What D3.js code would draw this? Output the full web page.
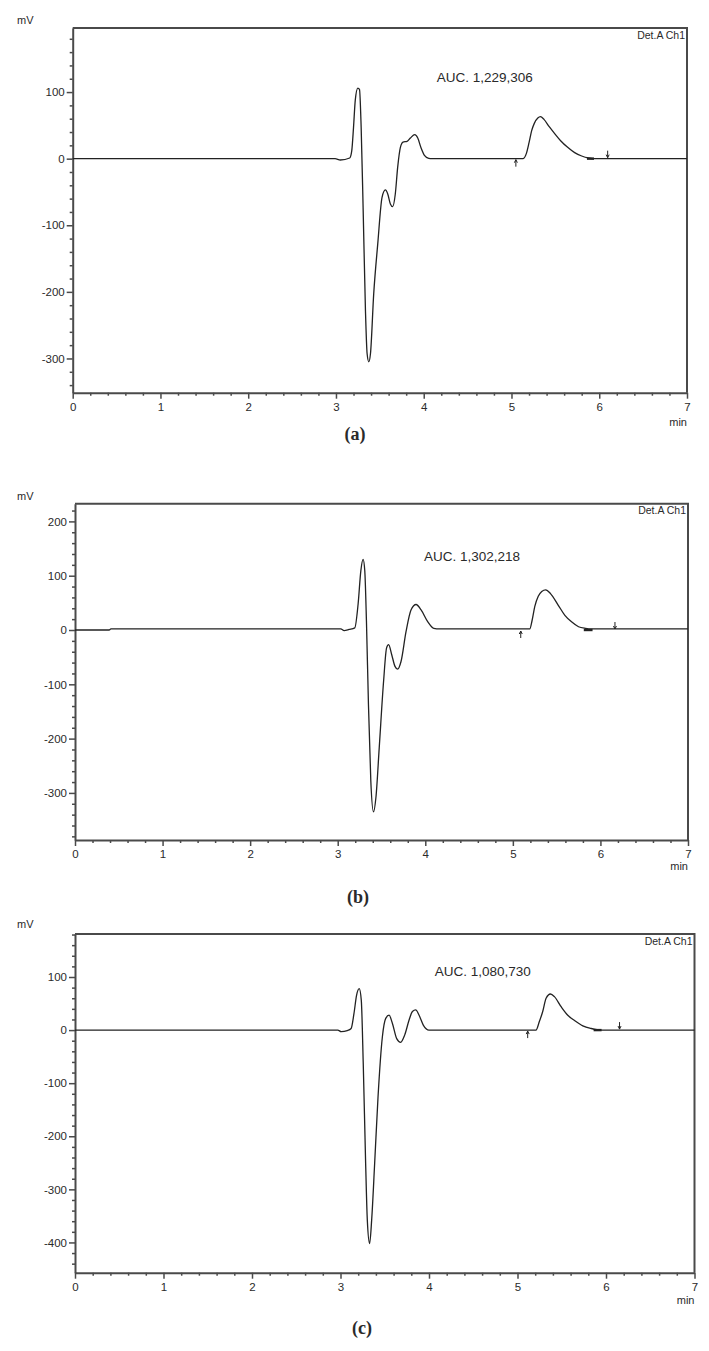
<!DOCTYPE html>
<html>
<head>
<meta charset="utf-8">
<script src="https://cdn.jsdelivr.net/npm/d3@7"></script>
<style>
  body { margin: 0; background: #fff; }
  text { font-family: "Liberation Sans", Arial, sans-serif; fill: #2a2a2a; }
</style>
</head>
<body>
<svg id="chart" width="709" height="1351"></svg>
<script>
// ---------- data ----------
const xTicks = [0, 1, 2, 3, 4, 5, 6, 7];

// (a)
const timeA = [0, 2.99, 3.05, 3.157, 3.18, 3.2, 3.22, 3.249, 3.268, 3.287, 3.31, 3.336, 3.355, 3.374, 3.393, 3.43, 3.476, 3.525, 3.563, 3.59, 3.62, 3.646, 3.676, 3.703, 3.734, 3.764, 3.81, 3.848, 3.898, 3.932, 3.97, 4.008, 4.057, 4.095,
  5.13, 5.17, 5.20, 5.23, 5.26, 5.30, 5.33, 5.37, 5.43, 5.49, 5.56, 5.64, 5.72, 5.80, 5.88, 5.95, 7];
const mvA = [0, 0, -2, 1, 12, 47, 88, 106, 104, 47, -78, -228, -293, -305, -293, -203, -128, -58, -47, -53, -68, -72, -53, -13, 17, 25, 26, 31, 36, 31, 16, 5, 0.5, 0,
  0, 8, 24, 42, 53, 61, 63, 59, 48, 38, 27, 17, 9, 4, 1, 0, 0];
const yTicksA = [-300, -200, -100, 0, 100];
const arrowsA = { up: 5.05, down: 6.096 };
const tailA = [5.86, 5.94];
const aucA = "AUC. 1,229,306";

// (b)
const timeB = [0, 0.39, 0.41, 3.035, 3.073, 3.13, 3.195, 3.233, 3.264, 3.29, 3.309, 3.328, 3.351, 3.378, 3.409, 3.436, 3.474, 3.524, 3.558, 3.581, 3.616, 3.654, 3.684, 3.723, 3.78, 3.837, 3.895, 3.952, 4.029, 4.097, 4.162,
  5.193, 5.22, 5.25, 5.29, 5.33, 5.375, 5.43, 5.517, 5.594, 5.67, 5.75, 5.83, 5.9, 7];
const mvB = [0, 0, 2, 2, -1, 1, 4, 48, 109, 130, 109, 17, -137, -278, -335, -309, -217, -94, -33, -27, -45, -67, -72, -58, -3, 37, 47, 37, 15, 3, 2,
  2, 18, 43, 62, 71, 74, 67, 46, 27, 15, 6, 3, 2, 2];
const yTicksB = [-300, -200, -100, 0, 100, 200];
const arrowsB = { up: 5.09, down: 6.166 };
const tailB = [5.81, 5.91];
const aucB = "AUC. 1,302,218";

// (c)
const timeC = [0, 2.97, 3.008, 3.076, 3.12, 3.152, 3.182, 3.212, 3.235, 3.257, 3.284, 3.303, 3.329, 3.352, 3.386, 3.424, 3.473, 3.511, 3.549, 3.586, 3.635, 3.68, 3.726, 3.775, 3.813, 3.85, 3.888, 3.937, 4.0,
  5.209, 5.247, 5.285, 5.323, 5.372, 5.417, 5.493, 5.568, 5.644, 5.738, 5.833, 5.946, 7];
const mvC = [0, 0, -3, -1, 3, 31, 66, 78, 56, -63, -251, -358, -402, -358, -251, -126, -13, 22, 28, 13, -16, -23, -9, 19, 35, 38, 28, 9, 0,
  0, 16, 35, 60, 68, 63, 44, 28, 18, 8, 3, 0, 0];
const yTicksC = [-400, -300, -200, -100, 0, 100];
const arrowsC = { up: 5.115, down: 6.153 };
const tailC = [5.86, 5.95];
const aucC = "AUC. 1,080,730";

// ---------- layout of each panel ----------
const panels = [
  { time: timeA, mv: mvA, yTicks: yTicksA, arrows: arrowsA, tail: tailA, auc: aucA, caption: "(a)",
    left: 72.7, right: 687, top: 28, bottom: 392.7, yDomain: [-351.4, 196.2],
    aucX: 532.7, aucY: 81.5, detY: 39, mvY: 23.5, minY: 426, capX: 355, capY: 440 },
  { time: timeB, mv: mvB, yTicks: yTicksB, arrows: arrowsB, tail: tailB, auc: aucB, caption: "(b)",
    left: 75, right: 688, top: 503.7, bottom: 840, yDomain: [-386.7, 232.6],
    aucX: 520, aucY: 560.5, detY: 514, mvY: 500, minY: 870, capX: 358, capY: 903 },
  { time: timeC, mv: mvC, yTicks: yTicksC, arrows: arrowsC, tail: tailC, auc: aucC, caption: "(c)",
    left: 75, right: 694.5, top: 934, bottom: 1272.7, yDomain: [-457, 181],
    aucX: 530.7, aucY: 975.5, detY: 945, mvY: 928, minY: 1304, capX: 362, capY: 1334 }
];

const svg = d3.select("#chart");
const axisColor = "#4a4a4a";

function drawPanel(p) {
  const g = svg.append("g");

  const x = d3.scaleLinear().domain([0, 7]).range([p.left, p.right]);
  const y = d3.scaleLinear().domain(p.yDomain).range([p.bottom, p.top]);

  // top + right frame
  g.append("path")
    .attr("d", `M${p.left},${p.top}H${p.right}V${p.bottom}`)
    .attr("fill", "none")
    .attr("stroke", axisColor)
    .attr("stroke-width", 2);

  // minor ticks (every 20 mV, every 0.2 min)
  const yMinor = d3.range(Math.ceil(p.yDomain[0] / 20) * 20, p.yDomain[1], 20).filter(v => v % 100 !== 0);
  const xMinor = d3.range(0.2, 7, 0.2).filter(v => Math.abs(v - Math.round(v)) > 0.01);

  g.append("g")
    .attr("transform", `translate(${p.left},0)`)
    .call(d3.axisLeft(y).tickValues(yMinor).tickSize(3).tickFormat(""))
    .call(s => s.select(".domain").remove());

  g.append("g")
    .attr("transform", `translate(0,${p.bottom})`)
    .call(d3.axisBottom(x).tickValues(xMinor).tickSize(3).tickFormat(""))
    .call(s => s.select(".domain").remove());

  // major axes
  const yAxis = g.append("g")
    .attr("transform", `translate(${p.left},0)`)
    .call(d3.axisLeft(y).tickValues(p.yTicks).tickSize(6).tickSizeOuter(0).tickPadding(2).tickFormat(d => String(d)));

  const xAxis = g.append("g")
    .attr("transform", `translate(0,${p.bottom})`)
    .call(d3.axisBottom(x).tickValues(xTicks).tickSize(6).tickSizeOuter(0).tickPadding(4).tickFormat(d => String(d)));

  [yAxis, xAxis].forEach(a => {
    a.select(".domain").attr("stroke", axisColor).attr("stroke-width", 2);
    a.selectAll(".tick text").style("font-size", "11.5px").attr("fill", "#2a2a2a");
  });
  g.selectAll(".tick line").attr("stroke", axisColor).attr("stroke-width", 1.5);

  // trace
  const line = d3.line()
    .x((d, i) => x(p.time[i]))
    .y(d => y(d))
    .curve(d3.curveMonotoneX);

  g.append("path")
    .datum(p.mv)
    .attr("fill", "none")
    .attr("stroke", "#222")
    .attr("stroke-width", 1.3)
    .attr("d", line);

  // integration baseline mark at end of peak tail
  g.append("line")
    .attr("x1", x(p.tail[0])).attr("x2", x(p.tail[1]))
    .attr("y1", y(0)).attr("y2", y(0))
    .attr("stroke", "#222")
    .attr("stroke-width", 2.4);

  // start/stop markers
  const y0 = y(0);
  const ux = x(p.arrows.up), dx = x(p.arrows.down);
  g.append("path")
    .attr("d", `M${ux},${y0 + 8}V${y0 + 1}M${ux - 1.5},${y0 + 4}L${ux},${y0 + 1}L${ux + 1.5},${y0 + 4}`)
    .attr("fill", "none").attr("stroke", "#222").attr("stroke-width", 1);
  g.append("path")
    .attr("d", `M${dx},${y0 - 8}V${y0 - 1}M${dx - 1.5},${y0 - 4}L${dx},${y0 - 1}L${dx + 1.5},${y0 - 4}`)
    .attr("fill", "none").attr("stroke", "#222").attr("stroke-width", 1);

  // texts
  g.append("text")
    .attr("x", p.aucX).attr("y", p.aucY)
    .attr("text-anchor", "end")
    .style("font-size", "13.5px")
    .attr("fill", "#222")
    .text(p.auc);

  g.append("text")
    .attr("x", p.right - 2).attr("y", p.detY)
    .attr("text-anchor", "end")
    .style("font-size", "10.5px")
    .text("Det.A Ch1");

  g.append("text")
    .attr("x", 17).attr("y", p.mvY)
    .style("font-size", "11px")
    .text("mV");

  g.append("text")
    .attr("x", p.right).attr("y", p.minY)
    .attr("text-anchor", "end")
    .style("font-size", "11px")
    .text("min");

  g.append("text")
    .attr("x", p.capX).attr("y", p.capY)
    .attr("text-anchor", "middle")
    .style("font-family", "'Liberation Serif', 'DejaVu Serif', serif")
    .style("font-size", "18px")
    .style("font-weight", "bold")
    .attr("fill", "#000")
    .text(p.caption);
}

panels.forEach(drawPanel);
</script>
</body>
</html>
